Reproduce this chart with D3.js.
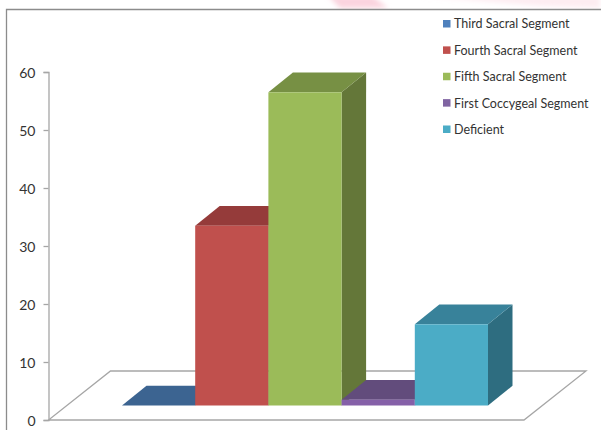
<!DOCTYPE html>
<html>
<head>
<meta charset="utf-8">
<script src="https://cdn.jsdelivr.net/npm/d3@7"></script>
<style>
  html, body { margin: 0; padding: 0; background: #fff; }
  svg { display: block; }
</style>
</head>
<body>
<div id="chart"></div>
<script>
const categories = ["Third Sacral Segment", "Fourth Sacral Segment", "Fifth Sacral Segment", "First Coccygeal Segment", "Deficient"];
const values = [0, 31, 54, 1, 14];
const yTicks = [0, 10, 20, 30, 40, 50, 60];
const legendColors = ["#4F81BD", "#C0504D", "#9BBB59", "#8064A2", "#4BACC6"];
const frontColors = ["#4F81BD", "#C0504D", "#9BBB59", "#8560A8", "#4BACC6"];
const topColors = ["#3C6491", "#953B3A", "#779044", "#624C7C", "#38829A"];
const sideColors = ["#335578", "#7F3231", "#647739", "#523F68", "#2E6D80"];

const width = 601, height = 430;
const font = "Lato, 'Open Sans', sans-serif";

const svg = d3.select("#chart").append("svg")
    .attr("width", width)
    .attr("height", height)
    .attr("viewBox", [0, 0, width, height]);

// faint pink smudge above the frame, left over from the slide behind the chart
const defs = svg.append("defs");
defs.append("filter").attr("id", "blur").append("feGaussianBlur").attr("stdDeviation", 2.5);
const smudge = svg.append("g").attr("filter", "url(#blur)").attr("fill", "#f9c9d6");
smudge.append("path").attr("d", "M328,-4 L372,-4 L388,8 L340,8 Z").attr("opacity", 0.8);
smudge.append("path").attr("d", "M420,-4 L600,-4 L600,8 L540,6 Z").attr("opacity", 0.35);

// chart frame, only top and left are in shot
svg.append("path")
    .attr("d", `M6.5,${height} V9.5 H${width}`)
    .attr("fill", "none")
    .attr("stroke", "#8c8c8c")
    .attr("stroke-width", 1.3);

const y = d3.scaleLinear().domain([0, 60]).range([420, 72]);
const x = d3.scaleBand().domain(categories).range([122, 488]);

// 3D offsets of the box depth and of the floor
const depthX = 24.5, depthY = 19.7;
const floorLeft = 48.5, floorRight = 524, floorDX = 62, floorDY = 49;
const barLift = 14.5;

svg.append("path")
    .attr("d", d3.line()([
        [floorLeft, y(0)],
        [floorRight, y(0)],
        [floorRight + floorDX, y(0) - floorDY],
        [floorLeft + floorDX, y(0) - floorDY]
    ]) + "Z")
    .attr("fill", "#fff")
    .attr("stroke", "#a6a6a6")
    .attr("stroke-width", 1.3);

const axis = svg.append("g")
    .attr("transform", `translate(${floorLeft},0)`)
    .call(d3.axisLeft(y).tickValues(yTicks).tickSize(5).tickPadding(8));
axis.selectAll("path, line").attr("stroke", "#a6a6a6").attr("stroke-width", 1.3);
axis.selectAll("text")
    .attr("y", 1)
    .attr("fill", "#333")
    .style("font-family", font)
    .style("font-size", "14px");

const bars = categories.map((name, i) => ({ name, value: values[i], i }));

// left to right, each box paints over the side of the one before it
const bar = svg.selectAll("g.bar")
    .data(bars)
    .join("g")
    .attr("class", "bar");

const poly = pts => d3.line()(pts) + "Z";

bar.each(function(d) {
    const g = d3.select(this);
    const x0 = x(d.name), x1 = x0 + x.bandwidth();
    const base = y(0) - barLift, top = y(d.value) - barLift;
    g.append("path")
        .attr("fill", sideColors[d.i])
        .attr("d", poly([[x1, base], [x1 + depthX, base - depthY], [x1 + depthX, top - depthY], [x1, top]]));
    g.append("path")
        .attr("fill", topColors[d.i])
        .attr("d", poly([[x0, top], [x1, top], [x1 + depthX, top - depthY], [x0 + depthX, top - depthY]]));
    g.append("rect")
        .attr("x", x0)
        .attr("y", top)
        .attr("width", x.bandwidth())
        .attr("height", base - top)
        .attr("fill", frontColors[d.i]);
});

const legendY = d3.scalePoint().domain(categories).range([24, 129.5]);
const legend = svg.selectAll("g.legend")
    .data(categories)
    .join("g")
    .attr("class", "legend")
    .attr("transform", d => `translate(443,${legendY(d)})`);

legend.append("rect")
    .attr("x", 0)
    .attr("y", -4)
    .attr("width", 7.5)
    .attr("height", 7.5)
    .attr("fill", (d, i) => legendColors[i]);

legend.append("text")
    .attr("x", 11)
    .attr("dy", "0.35em")
    .attr("fill", "#333")
    .style("font-family", font)
    .style("font-size", "12.5px")
    .text(d => d);
</script>
</body>
</html>
